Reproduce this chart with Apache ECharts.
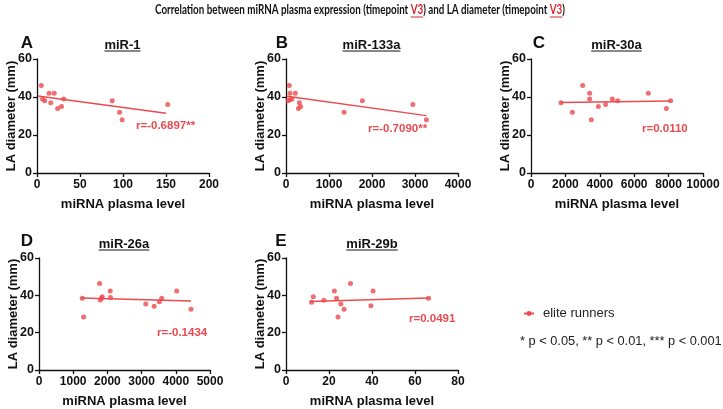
<!DOCTYPE html>
<html><head><meta charset="utf-8">
<script src="https://cdn.jsdelivr.net/npm/echarts@6/dist/echarts.min.js"></script>
<style>html,body{margin:0;padding:0;background:#fff}#c{width:723px;height:409px}</style>
</head><body><div id="c"></div>
<script>
// ---------- data ----------
const panelLetters = ['A', 'B', 'C', 'D', 'E'];
const panelTitles = ['miR-1', 'miR-133a', 'miR-30a', 'miR-26a', 'miR-29b'];
const rLabels = ['r=-0.6897**', 'r=-0.7090**', 'r=0.0110', 'r=-0.1434', 'r=0.0491'];
const xMax = [200, 4000, 10000, 5000, 80];
const xInterval = [50, 1000, 2000, 1000, 20];
const yMax = 60, yInterval = 20;
const xAxisTitle = 'miRNA plasma level';
const yAxisTitle = 'LA diameter (mm)';
const legendName = 'elite runners';
const footnote = '* p < 0.05, ** p < 0.01, *** p < 0.001';
const titleParts = ['Correlation between miRNA plasma expression (timepoint ', 'V3', ') and LA diameter (timepoint ', 'V3', ')'];

const miR1 = [[5,46],[6.5,39],[9,38],[14,42],[20,42],[16,37],[24,34],[28.5,35],[31,39],[87.5,38],[96,32],[99,28],[152,36]];
const miR133a = [[77,46],[93,42],[216,42],[50,38],[90,38.5],[140,39],[310,37],[340,35],[290,34],[1351,32],[1776,38],[2950,36],[3265,28]];
const miR30a = [[1744,37],[2403,32],[3004,46],[3411,42],[3411,39],[3508,28],[3915,35],[4341,36],[4729,39],[5039,38],[6822,42],[7868,34],[8120,38]];
const miR26a = [[1265,38.4],[1304,28.4],[1770,46.3],[1790,37.5],[1829,38.4],[1848,39.3],[2082,42.3],[2091,38.9],[3122,35.3],[3366,34.2],[3521,36.5],[3589,38.4],[4027,42.3],[4446,32.5]];
const miR29b = [[11.9,36.3],[12.7,39.3],[17.6,37.4],[22.5,42.3],[23.5,38.4],[25.5,35.3],[24.2,28.4],[27,32.5],[30,46.3],[39.5,34.4],[40.5,42.3],[66.3,38.4]];

const fit1 = [[1,40.5],[150,31.4]];
const fit133a = [[20,40.4],[3265,30.2]];
const fit30a = [[1700,37.1],[8100,37.9]];
const fit26a = [[1245,38.6],[4446,36.9]];
const fit29b = [[11.1,36.7],[66.3,38.6]];

const points = [miR1, miR133a, miR30a, miR26a, miR29b];
const fits = [fit1, fit133a, fit30a, fit26a, fit29b];

// ---------- layout / style ----------
const RED = '#eb4a4f';
const TITLE_RED = '#d8262c';
const INK = '#111';
const FONT = 'Liberation Sans';
const grids = [
  {left: 37, top: 59, width: 172, height: 114},
  {left: 286, top: 59, width: 172, height: 114},
  {left: 531, top: 59, width: 172, height: 114},
  {left: 39, top: 258, width: 171, height: 114},
  {left: 286, top: 258, width: 172, height: 114}
];
const letterPos = [[27,43],[282,43],[539,43],[27,241],[281,241]];
const subPos = [[122.5,45],[371.5,45],[616.5,45],[124,244],[372,244]];
const rPos = [[136,126],[368,129],[642,129],[157,333],[409,319]];

const cv = document.createElement('canvas').getContext('2d');
function tw(text, font) { cv.font = font; return cv.measureText(text).width; }

const chart = echarts.init(document.getElementById('c'), null, {renderer: 'canvas'});

const xAxes = [], yAxes = [], series = [], graphics = [];
for (let i = 0; i < 5; i++) {
  xAxes.push({
    gridIndex: i, type: 'value', min: 0, max: xMax[i], interval: xInterval[i],
    name: xAxisTitle, nameLocation: 'middle', nameGap: 25, nameMoveOverlap: false,
    nameTextStyle: {fontFamily: FONT, fontWeight: 'bold', fontSize: 13, color: INK},
    axisLine: {show: true, onZero: false, lineStyle: {color: INK, width: 1.3}},
    axisTick: {show: true, length: 4, lineStyle: {color: INK, width: 1.3}},
    axisLabel: {fontFamily: FONT, fontWeight: 'bold', fontSize: 12, color: INK, margin: 6,
      formatter: v => String(v)},
    splitLine: {show: false}
  });
  yAxes.push({
    gridIndex: i, type: 'value', min: 0, max: yMax, interval: yInterval,
    name: yAxisTitle, nameLocation: 'middle', nameGap: 19, nameMoveOverlap: false,
    nameTextStyle: {fontFamily: FONT, fontWeight: 'bold', fontSize: 13, color: INK},
    axisLine: {show: true, lineStyle: {color: INK, width: 1.3}},
    axisTick: {show: true, length: 4, lineStyle: {color: INK, width: 1.3}},
    axisLabel: {fontFamily: FONT, fontWeight: 'bold', fontSize: 12.5, color: INK, margin: 5,
      formatter: v => String(v)},
    splitLine: {show: false}
  });
  series.push({
    type: 'scatter', xAxisIndex: i, yAxisIndex: i, data: points[i],
    symbol: 'circle', symbolSize: 5, itemStyle: {color: RED}, silent: true, z: 3
  });
  series.push({
    type: 'line', xAxisIndex: i, yAxisIndex: i, data: fits[i],
    symbol: 'none', lineStyle: {color: RED, width: 1.5}, silent: true, z: 2
  });
  graphics.push({type: 'text', x: letterPos[i][0], y: letterPos[i][1],
    style: {text: panelLetters[i], font: 'bold 17px "' + FONT + '"', fill: INK, textAlign: 'center', textVerticalAlign: 'middle'}});
  const sf = 'bold 13px "' + FONT + '"';
  const sw = tw(panelTitles[i], sf);
  graphics.push({type: 'text', x: subPos[i][0], y: subPos[i][1],
    style: {text: panelTitles[i], font: sf, fill: INK, textAlign: 'center', textVerticalAlign: 'middle'}});
  graphics.push({type: 'line', shape: {x1: subPos[i][0] - sw / 2, y1: subPos[i][1] + 6, x2: subPos[i][0] + sw / 2, y2: subPos[i][1] + 6},
    style: {stroke: INK, lineWidth: 1}});
  graphics.push({type: 'text', x: rPos[i][0], y: rPos[i][1],
    style: {text: rLabels[i], font: 'bold 11.5px "' + FONT + '"', fill: RED, textAlign: 'left', textVerticalAlign: 'middle'}});
}
series.push({type: 'line', name: legendName, data: [], xAxisIndex: 0, yAxisIndex: 0,
  symbol: 'circle', symbolSize: 4, itemStyle: {color: RED}, lineStyle: {color: RED, width: 1.5}});

// main title: pieces, horizontally condensed to the reference width
const tf = 'bold 12.5px "Lato"';
const TITLE_LEFT = 155, TITLE_WIDTH = 410;
let total = 0; const widths = titleParts.map(p => { const w = tw(p, tf); total += w; return w; });
const sx = TITLE_WIDTH / total;
let tx = TITLE_LEFT;
titleParts.forEach((p, k) => {
  const isV = p === 'V3';
  graphics.push({type: 'text', x: tx, y: 10, scaleX: sx,
    style: {text: p, font: tf, fill: isV ? TITLE_RED : INK, textAlign: 'left', textVerticalAlign: 'middle'}});
  if (isV) graphics.push({type: 'line', shape: {x1: tx, y1: 17, x2: tx + widths[k] * sx, y2: 17}, style: {stroke: TITLE_RED, lineWidth: 1}});
  tx += widths[k] * sx;
});
graphics.push({type: 'text', x: 520, y: 341,
  style: {text: footnote, font: '12.8px "' + FONT + '"', fill: '#222', textAlign: 'left', textVerticalAlign: 'middle'}});

chart.setOption({
  backgroundColor: '#fff',
  animation: false,
  grid: grids,
  xAxis: xAxes,
  yAxis: yAxes,
  legend: {data: [legendName], left: 523, top: 307, padding: 0, itemWidth: 10, itemHeight: 6, itemGap: 6,
    textStyle: {fontFamily: FONT, fontSize: 13, color: '#222', padding: [0, 0, 0, 4]}},
  graphic: graphics,
  series: series
});
</script></body></html>
